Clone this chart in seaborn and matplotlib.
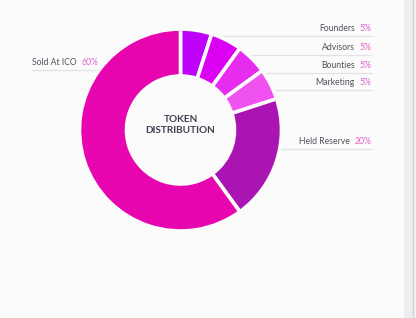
import numpy as np
import matplotlib
matplotlib.use("Agg")
import matplotlib.pyplot as plt
import seaborn as sns

# ---- data ----
categories = ["Founders", "Advisors", "Bounties", "Marketing", "Held Reserve", "Sold At ICO"]
shares = [5, 5, 5, 5, 20, 60]
pct_labels = ["5%", "5%", "5%", "5%", "20%", "60%"]
colors = ["#bd00f7", "#dc00f2", "#e82cef", "#ef52ef", "#aa14b2", "#e705b0"]
center_title = "TOKEN\nDISTRIBUTION"

# ---- layout ----
W, H = 416, 318
BG = "#fbfbfc"
sns.set_theme(style="white")
plt.rcParams["font.family"] = ["Lato", "DejaVu Sans"]

fig = plt.figure(figsize=(W / 100, H / 100), dpi=100, facecolor=BG)
ax = fig.add_axes([0, 0, 1, 1])
ax.set_facecolor(BG)

cx, cy = 180.5, H - 130
R_out, R_in = 101, 54
# label row heights (pixels from top) for each category
label_rows = [36, 55, 73, 90, 149, 70]
label_side = ["r", "r", "r", "r", "r", "l"]

# scrollbar strip on the right
ax.axvspan(404, 413, color="#eceef0", zorder=0)
ax.axvspan(413, 414.2, color="#c9cacc", zorder=0)
ax.axvspan(414.2, 416, color="#eef0f2", zorder=0)

wedges, _ = ax.pie(shares, colors=colors, startangle=90, counterclock=False,
                   center=(cx, cy), radius=R_out,
                   wedgeprops=dict(width=R_out - R_in, edgecolor=BG, linewidth=2.6))
for w in wedges:
    w.set_zorder(5)
ax.set_xlim(0, W)
ax.set_ylim(0, H)
ax.set_aspect("equal")
ax.axis("off")

fig.canvas.draw()
renderer = fig.canvas.get_renderer()
FS = 6.2
for cat, pct, row, side in zip(categories, pct_labels, label_rows, label_side):
    ly = H - row
    dy = abs(ly - cy)
    reach = np.sqrt(max((R_out - 4) ** 2 - dy ** 2, 0.0))
    if side == "r":
        ax.plot([cx + reach, 372], [ly, ly], color="#e2e3e6", lw=0.9, zorder=1)
        pt = ax.text(371, ly + 3.2, pct, ha="right", va="bottom", fontsize=FS,
                     color="#e35fcb", zorder=3)
        bb = pt.get_window_extent(renderer)
        ax.text(bb.x0 - 4.5, ly + 3.2, cat, ha="right", va="bottom", fontsize=FS,
                color="#4f535b", zorder=3)
    else:
        ax.plot([32, cx - reach], [ly, ly], color="#e2e3e6", lw=0.9, zorder=1)
        lt = ax.text(32, ly + 3.2, cat, ha="left", va="bottom", fontsize=FS,
                     color="#4f535b", zorder=3)
        bb = lt.get_window_extent(renderer)
        ax.text(bb.x1 + 4.5, ly + 3.2, pct, ha="left", va="bottom", fontsize=FS,
                color="#e35fcb", zorder=3)

ax.text(cx, cy + 5, center_title, ha="center", va="center", fontsize=7.2,
        fontweight="bold", color="#3d4250", linespacing=1.2, zorder=7)

fig.savefig("out.png", dpi=100, facecolor=BG)
